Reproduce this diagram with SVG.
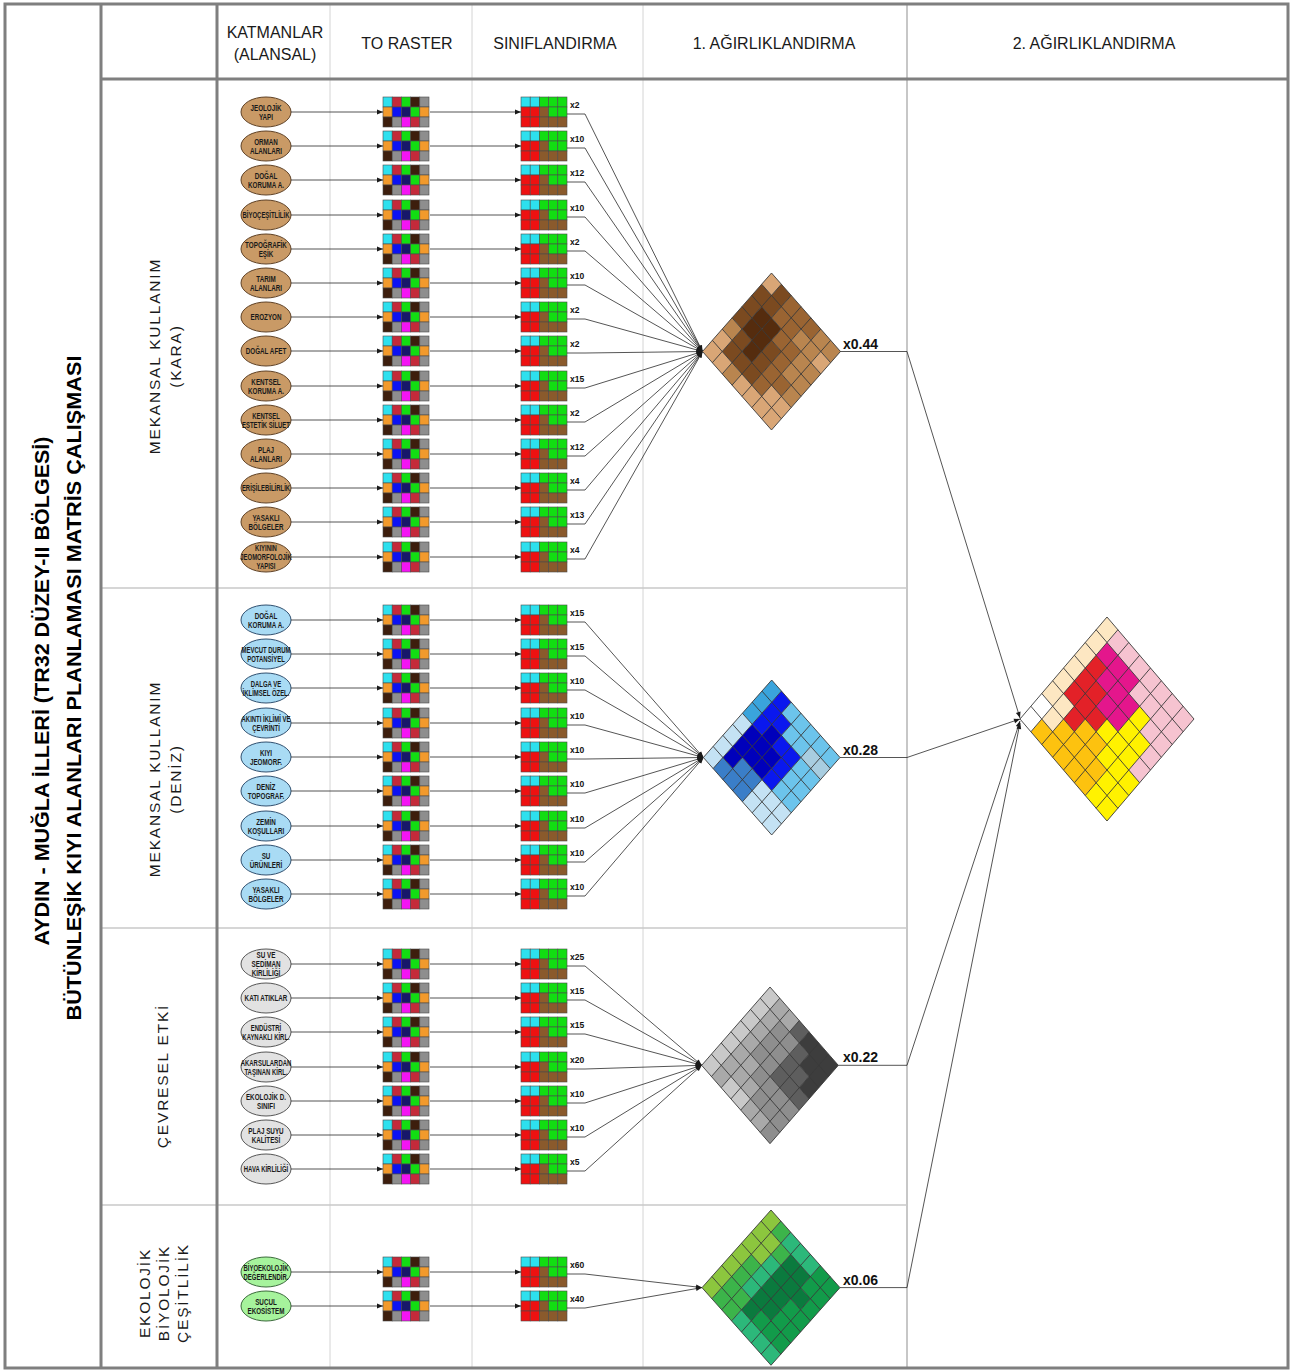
<svg xmlns="http://www.w3.org/2000/svg" width="1295" height="1371" viewBox="0 0 1295 1371">
<style>
.fr{fill:none;stroke:#7f7f7f;stroke-width:3}
.tl{stroke:#d4d4d4;stroke-width:1;fill:none}
.hl{stroke:#c8c8c8;stroke-width:1.5;fill:none}
.hd{font-family:"Liberation Sans",Arial,sans-serif;font-size:16px;fill:#1a1a1a;text-anchor:middle}
.sec{font-family:"Liberation Sans",Arial,sans-serif;font-size:15.5px;fill:#1a1a1a;text-anchor:middle;letter-spacing:1.8px}
.ttl{font-family:"Liberation Sans",Arial,sans-serif;font-size:20px;font-weight:bold;fill:#000;text-anchor:middle}
.et{font-family:"Liberation Sans",Arial,sans-serif;font-size:8.5px;font-weight:bold;fill:#1a1a1a;text-anchor:middle}
.ek{fill:#c99a66;stroke:#5e4024;stroke-width:1}
.ed{fill:#a9dbf4;stroke:#2f4f6f;stroke-width:1}
.ec{fill:#e2e2e2;stroke:#555;stroke-width:1}
.eb{fill:#a6f39c;stroke:#3a6a3a;stroke-width:1}
.w{font-family:"Liberation Sans",Arial,sans-serif;font-size:8.5px;font-weight:bold;fill:#111}
.wt{font-family:"Liberation Sans",Arial,sans-serif;font-size:14px;font-weight:bold;fill:#111}
.cn path{fill:none;stroke:#2a2a2a;stroke-width:0.8;marker-end:url(#ah)}
.gl{fill:none;stroke:#3a3a3a;stroke-width:0.9;vector-effect:non-scaling-stroke}
</style>
<defs>
<marker id="ah" viewBox="0 0 10 10" refX="10" refY="5" markerWidth="7" markerHeight="6" orient="auto" markerUnits="userSpaceOnUse"><path d="M0,1 L10,5 L0,9 z" fill="#1a1a1a"/></marker>
<g id="ras" stroke="#4a4a4a" stroke-width="0.6">
<rect x="0" y="0" width="9.2" height="10" fill="#2de0ee"/><rect x="9.2" y="0" width="9.2" height="10" fill="#c42a3a"/><rect x="18.4" y="0" width="9.2" height="10" fill="#12dd12"/><rect x="27.6" y="0" width="9.2" height="10" fill="#3d1e0d"/><rect x="36.8" y="0" width="9.2" height="10" fill="#8e8e8e"/>
<rect x="0" y="10" width="9.2" height="10" fill="#f29a2c"/><rect x="9.2" y="10" width="9.2" height="10" fill="#0c12f2"/><rect x="18.4" y="10" width="9.2" height="10" fill="#17176a"/><rect x="27.6" y="10" width="9.2" height="10" fill="#12dd12"/><rect x="36.8" y="10" width="9.2" height="10" fill="#f29a2c"/>
<rect x="0" y="20" width="9.2" height="10" fill="#3d1e0d"/><rect x="9.2" y="20" width="9.2" height="10" fill="#8e8e8e"/><rect x="18.4" y="20" width="9.2" height="10" fill="#f414f4"/><rect x="27.6" y="20" width="9.2" height="10" fill="#c42a3a"/><rect x="36.8" y="20" width="9.2" height="10" fill="#8e8e8e"/>
</g>
<g id="cls" stroke="#4a4a4a" stroke-width="0.6">
<rect x="0" y="0" width="9.2" height="10" fill="#2de0ee"/><rect x="9.2" y="0" width="9.2" height="10" fill="#2de0ee"/><rect x="18.4" y="0" width="9.2" height="10" fill="#12dd12"/><rect x="27.6" y="0" width="9.2" height="10" fill="#12dd12"/><rect x="36.8" y="0" width="9.2" height="10" fill="#12dd12"/>
<rect x="0" y="10" width="9.2" height="10" fill="#ee1111"/><rect x="9.2" y="10" width="9.2" height="10" fill="#ee1111"/><rect x="18.4" y="10" width="9.2" height="10" fill="#8a5a2c"/><rect x="27.6" y="10" width="9.2" height="10" fill="#12dd12"/><rect x="36.8" y="10" width="9.2" height="10" fill="#12dd12"/>
<rect x="0" y="20" width="9.2" height="10" fill="#ee1111"/><rect x="9.2" y="20" width="9.2" height="10" fill="#ee1111"/><rect x="18.4" y="20" width="9.2" height="10" fill="#8a5a2c"/><rect x="27.6" y="20" width="9.2" height="10" fill="#8a5a2c"/><rect x="36.8" y="20" width="9.2" height="10" fill="#8a5a2c"/>
</g>
<path id="g7" class="gl" d="M0 0H7M0 1H7M0 2H7M0 3H7M0 4H7M0 5H7M0 6H7M0 7H7M0 0V7M1 0V7M2 0V7M3 0V7M4 0V7M5 0V7M6 0V7M7 0V7"/>
<path id="g8" class="gl" d="M0 0H8M0 1H8M0 2H8M0 3H8M0 4H8M0 5H8M0 6H8M0 7H8M0 8H8M0 0V8M1 0V8M2 0V8M3 0V8M4 0V8M5 0V8M6 0V8M7 0V8M8 0V8"/>
</defs>

<rect width="1295" height="1371" fill="#ffffff"/>

<g id="frame">
<line class="tl" x1="330" y1="4" x2="330" y2="1368"/>
<line class="tl" x1="472" y1="4" x2="472" y2="1368"/>
<line class="tl" x1="643" y1="4" x2="643" y2="1368"/>
<line x1="907" y1="4" x2="907" y2="1368" stroke="#b4b4b4" stroke-width="1.5"/>
<line class="hl" x1="101" y1="588" x2="907" y2="588"/>
<line class="hl" x1="101" y1="928" x2="907" y2="928"/>
<line class="hl" x1="101" y1="1205" x2="907" y2="1205"/>
<rect class="fr" x="5" y="4" width="1283" height="1364"/>
<line class="fr" x1="101" y1="4" x2="101" y2="1368"/>
<line class="fr" x1="217" y1="4" x2="217" y2="1368"/>
<line class="fr" x1="101" y1="79" x2="1288" y2="79"/>
</g>

<g id="headers">
<text class="hd" x="275" y="38">KATMANLAR</text>
<text class="hd" x="275" y="60">(ALANSAL)</text>
<text class="hd" x="407" y="49">TO RASTER</text>
<text class="hd" x="555" y="49">SINIFLANDIRMA</text>
<text class="hd" x="774" y="49">1. AĞIRLIKLANDIRMA</text>
<text class="hd" x="1094" y="49">2. AĞIRLIKLANDIRMA</text>
</g>

<g id="title">
<text class="ttl" transform="translate(49,691) rotate(-90)" textLength="509" lengthAdjust="spacingAndGlyphs">AYDIN - MUĞLA İLLERİ (TR32 DÜZEY-II BÖLGESİ)</text>
<text class="ttl" transform="translate(81,688) rotate(-90)" textLength="665" lengthAdjust="spacingAndGlyphs">BÜTÜNLEŞİK KIYI ALANLARI PLANLAMASI MATRİS ÇALIŞMASI</text>
</g>

<g id="sections">
<text class="sec" transform="translate(160,356) rotate(-90)">MEKANSAL KULLANIM</text>
<text class="sec" transform="translate(181,356) rotate(-90)">(KARA)</text>
<text class="sec" transform="translate(160,779) rotate(-90)">MEKANSAL KULLANIM</text>
<text class="sec" transform="translate(181,779) rotate(-90)">(DENİZ)</text>
<text class="sec" transform="translate(168,1076) rotate(-90)">ÇEVRESEL ETKİ</text>
<text class="sec" transform="translate(150,1293) rotate(-90)">EKOLOJİK</text>
<text class="sec" transform="translate(169,1293) rotate(-90)">BİYOLOJİK</text>
<text class="sec" transform="translate(188,1293) rotate(-90)">ÇEŞİTLİLİK</text>
</g>

<!-- layer nodes -->
<g id="k1" transform="translate(266,112)"><ellipse class="ek" rx="25" ry="15"/><text class="et" transform="scale(0.74,1)"><tspan x="0" y="-1.5">JEOLOJİK</tspan><tspan x="0" y="7.5">YAPI</tspan></text></g>
<g id="k2" transform="translate(266,146)"><ellipse class="ek" rx="25" ry="15"/><text class="et" transform="scale(0.74,1)"><tspan x="0" y="-1.5">ORMAN</tspan><tspan x="0" y="7.5">ALANLARI</tspan></text></g>
<g id="k3" transform="translate(266,180)"><ellipse class="ek" rx="25" ry="15"/><text class="et" transform="scale(0.74,1)"><tspan x="0" y="-1.5">DOĞAL</tspan><tspan x="0" y="7.5">KORUMA A.</tspan></text></g>
<g id="k4" transform="translate(266,215)"><ellipse class="ek" rx="25" ry="15"/><text class="et" transform="scale(0.7,1)"><tspan x="0" y="3">BİYOÇEŞİTLİLİK</tspan></text></g>
<g id="k5" transform="translate(266,249)"><ellipse class="ek" rx="25" ry="15"/><text class="et" transform="scale(0.74,1)"><tspan x="0" y="-1.5">TOPOĞRAFİK</tspan><tspan x="0" y="7.5">EŞİK</tspan></text></g>
<g id="k6" transform="translate(266,283)"><ellipse class="ek" rx="25" ry="15"/><text class="et" transform="scale(0.74,1)"><tspan x="0" y="-1.5">TARIM</tspan><tspan x="0" y="7.5">ALANLARI</tspan></text></g>
<g id="k7" transform="translate(266,317)"><ellipse class="ek" rx="25" ry="15"/><text class="et" transform="scale(0.74,1)"><tspan x="0" y="3">EROZYON</tspan></text></g>
<g id="k8" transform="translate(266,351)"><ellipse class="ek" rx="25" ry="15"/><text class="et" transform="scale(0.74,1)"><tspan x="0" y="3">DOĞAL AFET</tspan></text></g>
<g id="k9" transform="translate(266,386)"><ellipse class="ek" rx="25" ry="15"/><text class="et" transform="scale(0.74,1)"><tspan x="0" y="-1.5">KENTSEL</tspan><tspan x="0" y="7.5">KORUMA A.</tspan></text></g>
<g id="k10" transform="translate(266,420)"><ellipse class="ek" rx="25" ry="15"/><text class="et" transform="scale(0.7,1)"><tspan x="0" y="-1.5">KENTSEL</tspan><tspan x="0" y="7.5">ESTETİK SİLUET</tspan></text></g>
<g id="k11" transform="translate(266,454)"><ellipse class="ek" rx="25" ry="15"/><text class="et" transform="scale(0.74,1)"><tspan x="0" y="-1.5">PLAJ</tspan><tspan x="0" y="7.5">ALANLARI</tspan></text></g>
<g id="k12" transform="translate(266,488)"><ellipse class="ek" rx="25" ry="15"/><text class="et" transform="scale(0.7,1)"><tspan x="0" y="3">ERİŞİLEBİLİRLİK</tspan></text></g>
<g id="k13" transform="translate(266,522)"><ellipse class="ek" rx="25" ry="15"/><text class="et" transform="scale(0.74,1)"><tspan x="0" y="-1.5">YASAKLI</tspan><tspan x="0" y="7.5">BÖLGELER</tspan></text></g>
<g id="k14" transform="translate(266,557)"><ellipse class="ek" rx="25" ry="15"/><text class="et" transform="scale(0.7,1)"><tspan x="0" y="-6">KIYININ</tspan><tspan x="0" y="3">JEOMORFOLOJİK</tspan><tspan x="0" y="12">YAPISI</tspan></text></g>

<g id="d1" transform="translate(266,620)"><ellipse class="ed" rx="25" ry="15"/><text class="et" transform="scale(0.74,1)"><tspan x="0" y="-1.5">DOĞAL</tspan><tspan x="0" y="7.5">KORUMA A.</tspan></text></g>
<g id="d2" transform="translate(266,654)"><ellipse class="ed" rx="25" ry="15"/><text class="et" transform="scale(0.7,1)"><tspan x="0" y="-1.5">MEVCUT DURUM</tspan><tspan x="0" y="7.5">POTANSİYEL</tspan></text></g>
<g id="d3" transform="translate(266,688)"><ellipse class="ed" rx="25" ry="15"/><text class="et" transform="scale(0.7,1)"><tspan x="0" y="-1.5">DALGA VE</tspan><tspan x="0" y="7.5">İKLİMSEL ÖZEL.</tspan></text></g>
<g id="d4" transform="translate(266,723)"><ellipse class="ed" rx="25" ry="15"/><text class="et" transform="scale(0.7,1)"><tspan x="0" y="-1.5">AKINTI İKLİMİ VE</tspan><tspan x="0" y="7.5">ÇEVRİNTİ</tspan></text></g>
<g id="d5" transform="translate(266,757)"><ellipse class="ed" rx="25" ry="15"/><text class="et" transform="scale(0.74,1)"><tspan x="0" y="-1.5">KIYI</tspan><tspan x="0" y="7.5">JEOMORF.</tspan></text></g>
<g id="d6" transform="translate(266,791)"><ellipse class="ed" rx="25" ry="15"/><text class="et" transform="scale(0.74,1)"><tspan x="0" y="-1.5">DENİZ</tspan><tspan x="0" y="7.5">TOPOGRAF.</tspan></text></g>
<g id="d7" transform="translate(266,826)"><ellipse class="ed" rx="25" ry="15"/><text class="et" transform="scale(0.74,1)"><tspan x="0" y="-1.5">ZEMİN</tspan><tspan x="0" y="7.5">KOŞULLARI</tspan></text></g>
<g id="d8" transform="translate(266,860)"><ellipse class="ed" rx="25" ry="15"/><text class="et" transform="scale(0.74,1)"><tspan x="0" y="-1.5">SU</tspan><tspan x="0" y="7.5">ÜRÜNLERİ</tspan></text></g>
<g id="d9" transform="translate(266,894)"><ellipse class="ed" rx="25" ry="15"/><text class="et" transform="scale(0.74,1)"><tspan x="0" y="-1.5">YASAKLI</tspan><tspan x="0" y="7.5">BÖLGELER</tspan></text></g>

<g id="c1" transform="translate(266,964)"><ellipse class="ec" rx="25" ry="15"/><text class="et" transform="scale(0.74,1)"><tspan x="0" y="-6">SU VE</tspan><tspan x="0" y="3">SEDİMAN</tspan><tspan x="0" y="12">KİRLİLİĞİ</tspan></text></g>
<g id="c2" transform="translate(266,998)"><ellipse class="ec" rx="25" ry="15"/><text class="et" transform="scale(0.74,1)"><tspan x="0" y="3">KATI ATIKLAR</tspan></text></g>
<g id="c3" transform="translate(266,1032)"><ellipse class="ec" rx="25" ry="15"/><text class="et" transform="scale(0.7,1)"><tspan x="0" y="-1.5">ENDÜSTRİ</tspan><tspan x="0" y="7.5">KAYNAKLI KİRL.</tspan></text></g>
<g id="c4" transform="translate(266,1067)"><ellipse class="ec" rx="25" ry="15"/><text class="et" transform="scale(0.7,1)"><tspan x="0" y="-1.5">AKARSULARDAN</tspan><tspan x="0" y="7.5">TAŞINAN KİRL.</tspan></text></g>
<g id="c5" transform="translate(266,1101)"><ellipse class="ec" rx="25" ry="15"/><text class="et" transform="scale(0.74,1)"><tspan x="0" y="-1.5">EKOLOJİK D.</tspan><tspan x="0" y="7.5">SINIFI</tspan></text></g>
<g id="c6" transform="translate(266,1135)"><ellipse class="ec" rx="25" ry="15"/><text class="et" transform="scale(0.74,1)"><tspan x="0" y="-1.5">PLAJ SUYU</tspan><tspan x="0" y="7.5">KALİTESİ</tspan></text></g>
<g id="c7" transform="translate(266,1169)"><ellipse class="ec" rx="25" ry="15"/><text class="et" transform="scale(0.7,1)"><tspan x="0" y="3">HAVA KİRLİLİĞİ</tspan></text></g>

<g id="b1" transform="translate(266,1272)"><ellipse class="eb" rx="25" ry="15"/><text class="et" transform="scale(0.7,1)"><tspan x="0" y="-1.5">BİYOEKOLOJİK</tspan><tspan x="0" y="7.5">DEĞERLENDİR.</tspan></text></g>
<g id="b2" transform="translate(266,1306)"><ellipse class="eb" rx="25" ry="15"/><text class="et" transform="scale(0.74,1)"><tspan x="0" y="-1.5">SUCUL</tspan><tspan x="0" y="7.5">EKOSİSTEM</tspan></text></g>

<!-- raster nodes -->
<g id="rasters">
<use href="#ras" x="383" y="97"/><use href="#ras" x="383" y="131"/><use href="#ras" x="383" y="165"/><use href="#ras" x="383" y="200"/><use href="#ras" x="383" y="234"/><use href="#ras" x="383" y="268"/><use href="#ras" x="383" y="302"/><use href="#ras" x="383" y="336"/><use href="#ras" x="383" y="371"/><use href="#ras" x="383" y="405"/><use href="#ras" x="383" y="439"/><use href="#ras" x="383" y="473"/><use href="#ras" x="383" y="507"/><use href="#ras" x="383" y="542"/>
<use href="#ras" x="383" y="605"/><use href="#ras" x="383" y="639"/><use href="#ras" x="383" y="673"/><use href="#ras" x="383" y="708"/><use href="#ras" x="383" y="742"/><use href="#ras" x="383" y="776"/><use href="#ras" x="383" y="811"/><use href="#ras" x="383" y="845"/><use href="#ras" x="383" y="879"/>
<use href="#ras" x="383" y="949"/><use href="#ras" x="383" y="983"/><use href="#ras" x="383" y="1017"/><use href="#ras" x="383" y="1052"/><use href="#ras" x="383" y="1086"/><use href="#ras" x="383" y="1120"/><use href="#ras" x="383" y="1154"/>
<use href="#ras" x="383" y="1257"/><use href="#ras" x="383" y="1291"/>
</g>

<!-- classified nodes -->
<g id="classified">
<use href="#cls" x="521" y="97"/><use href="#cls" x="521" y="131"/><use href="#cls" x="521" y="165"/><use href="#cls" x="521" y="200"/><use href="#cls" x="521" y="234"/><use href="#cls" x="521" y="268"/><use href="#cls" x="521" y="302"/><use href="#cls" x="521" y="336"/><use href="#cls" x="521" y="371"/><use href="#cls" x="521" y="405"/><use href="#cls" x="521" y="439"/><use href="#cls" x="521" y="473"/><use href="#cls" x="521" y="507"/><use href="#cls" x="521" y="542"/>
<use href="#cls" x="521" y="605"/><use href="#cls" x="521" y="639"/><use href="#cls" x="521" y="673"/><use href="#cls" x="521" y="708"/><use href="#cls" x="521" y="742"/><use href="#cls" x="521" y="776"/><use href="#cls" x="521" y="811"/><use href="#cls" x="521" y="845"/><use href="#cls" x="521" y="879"/>
<use href="#cls" x="521" y="949"/><use href="#cls" x="521" y="983"/><use href="#cls" x="521" y="1017"/><use href="#cls" x="521" y="1052"/><use href="#cls" x="521" y="1086"/><use href="#cls" x="521" y="1120"/><use href="#cls" x="521" y="1154"/>
<use href="#cls" x="521" y="1257"/><use href="#cls" x="521" y="1291"/>
</g>

<g id="weights">
<text class="w" x="570" y="108">x2</text><text class="w" x="570" y="142">x10</text><text class="w" x="570" y="176">x12</text><text class="w" x="570" y="211">x10</text><text class="w" x="570" y="245">x2</text><text class="w" x="570" y="279">x10</text><text class="w" x="570" y="313">x2</text><text class="w" x="570" y="347">x2</text><text class="w" x="570" y="382">x15</text><text class="w" x="570" y="416">x2</text><text class="w" x="570" y="450">x12</text><text class="w" x="570" y="484">x4</text><text class="w" x="570" y="518">x13</text><text class="w" x="570" y="553">x4</text>
<text class="w" x="570" y="616">x15</text><text class="w" x="570" y="650">x15</text><text class="w" x="570" y="684">x10</text><text class="w" x="570" y="719">x10</text><text class="w" x="570" y="753">x10</text><text class="w" x="570" y="787">x10</text><text class="w" x="570" y="822">x10</text><text class="w" x="570" y="856">x10</text><text class="w" x="570" y="890">x10</text>
<text class="w" x="570" y="960">x25</text><text class="w" x="570" y="994">x15</text><text class="w" x="570" y="1028">x15</text><text class="w" x="570" y="1063">x20</text><text class="w" x="570" y="1097">x10</text><text class="w" x="570" y="1131">x10</text><text class="w" x="570" y="1165">x5</text>
<text class="w" x="570" y="1268">x60</text><text class="w" x="570" y="1302">x40</text>
<text class="wt" x="843" y="349">x0.44</text>
<text class="wt" x="843" y="755">x0.28</text>
<text class="wt" x="843" y="1062">x0.22</text>
<text class="wt" x="843" y="1285">x0.06</text>
</g>

<g id="connectors" class="cn">
<path d="M291 112H383"/><path d="M291 146H383"/><path d="M291 180H383"/><path d="M291 215H383"/><path d="M291 249H383"/><path d="M291 283H383"/><path d="M291 317H383"/><path d="M291 351H383"/><path d="M291 386H383"/><path d="M291 420H383"/><path d="M291 454H383"/><path d="M291 488H383"/><path d="M291 522H383"/><path d="M291 557H383"/>
<path d="M291 620H383"/><path d="M291 654H383"/><path d="M291 688H383"/><path d="M291 723H383"/><path d="M291 757H383"/><path d="M291 791H383"/><path d="M291 826H383"/><path d="M291 860H383"/><path d="M291 894H383"/>
<path d="M291 964H383"/><path d="M291 998H383"/><path d="M291 1032H383"/><path d="M291 1067H383"/><path d="M291 1101H383"/><path d="M291 1135H383"/><path d="M291 1169H383"/>
<path d="M291 1272H383"/><path d="M291 1306H383"/>

<path d="M430 112H521"/><path d="M430 146H521"/><path d="M430 180H521"/><path d="M430 215H521"/><path d="M430 249H521"/><path d="M430 283H521"/><path d="M430 317H521"/><path d="M430 351H521"/><path d="M430 386H521"/><path d="M430 420H521"/><path d="M430 454H521"/><path d="M430 488H521"/><path d="M430 522H521"/><path d="M430 557H521"/>
<path d="M430 620H521"/><path d="M430 654H521"/><path d="M430 688H521"/><path d="M430 723H521"/><path d="M430 757H521"/><path d="M430 791H521"/><path d="M430 826H521"/><path d="M430 860H521"/><path d="M430 894H521"/>
<path d="M430 964H521"/><path d="M430 998H521"/><path d="M430 1032H521"/><path d="M430 1067H521"/><path d="M430 1101H521"/><path d="M430 1135H521"/><path d="M430 1169H521"/>
<path d="M430 1272H521"/><path d="M430 1306H521"/>

<path d="M567 114H585L702.5 351.5"/><path d="M567 148H585L702.5 351.5"/><path d="M567 182H585L702.5 351.5"/><path d="M567 217H585L702.5 351.5"/><path d="M567 251H585L702.5 351.5"/><path d="M567 285H585L702.5 351.5"/><path d="M567 319H585L702.5 351.5"/><path d="M567 353H585L702.5 351.5"/><path d="M567 388H585L702.5 351.5"/><path d="M567 422H585L702.5 351.5"/><path d="M567 456H585L702.5 351.5"/><path d="M567 490H585L702.5 351.5"/><path d="M567 524H585L702.5 351.5"/><path d="M567 559H585L702.5 351.5"/>
<path d="M567 622H585L703.4 757.5"/><path d="M567 656H585L703.4 757.5"/><path d="M567 690H585L703.4 757.5"/><path d="M567 725H585L703.4 757.5"/><path d="M567 759H585L703.4 757.5"/><path d="M567 793H585L703.4 757.5"/><path d="M567 828H585L703.4 757.5"/><path d="M567 862H585L703.4 757.5"/><path d="M567 896H585L703.4 757.5"/>
<path d="M567 966H585L701.7 1065.3"/><path d="M567 1000H585L701.7 1065.3"/><path d="M567 1034H585L701.7 1065.3"/><path d="M567 1069H585L701.7 1065.3"/><path d="M567 1103H585L701.7 1065.3"/><path d="M567 1137H585L701.7 1065.3"/><path d="M567 1171H585L701.7 1065.3"/>
<path d="M567 1274H585L702 1287.6"/><path d="M567 1308H585L702 1287.6"/>

<path d="M840 351.5H907L1020 718"/>
<path d="M840 757.5H907L1020 719"/>
<path d="M838.3 1065.3H907L1020 721"/>
<path d="M840 1287.6H907L1020 723"/>
</g>

<g id="w-kara" transform="matrix(9.857,11.214,-9.857,11.214,771.5,273)">
<path fill="#d9a676" d="M0 0h1v1h-1zM6 1h1v1h-1zM0 5h1v1h-1zM5 5h1v1h-1zM6 5h1v1h-1zM0 6h1v1h-1zM1 6h1v1h-1zM3 6h1v1h-1zM4 6h1v1h-1zM5 6h1v1h-1zM6 6h1v1h-1z"/>
<path fill="#7b4a20" d="M1 0h1v1h-1zM0 1h1v1h-1zM1 1h1v1h-1zM0 2h1v1h-1zM0 3h1v1h-1zM3 3h1v1h-1zM1 4h1v1h-1zM3 4h1v1h-1zM1 5h1v1h-1zM2 5h1v1h-1zM3 5h1v1h-1z"/>
<path fill="#552c0e" d="M1 2h1v1h-1zM2 2h1v1h-1zM1 3h1v1h-1zM2 3h1v1h-1zM2 4h1v1h-1z"/>
<path fill="#9a6432" d="M2 0h1v1h-1zM3 0h1v1h-1zM4 0h1v1h-1zM2 1h1v1h-1zM3 1h1v1h-1zM3 2h1v1h-1zM4 2h1v1h-1zM4 3h1v1h-1zM4 4h1v1h-1zM5 4h1v1h-1zM4 5h1v1h-1z"/>
<path fill="#b9854f" d="M5 0h1v1h-1zM6 0h1v1h-1zM4 1h1v1h-1zM5 1h1v1h-1zM5 2h1v1h-1zM6 2h1v1h-1zM5 3h1v1h-1zM6 3h1v1h-1zM0 4h1v1h-1zM6 4h1v1h-1zM2 6h1v1h-1z"/>
<use href="#g7"/>
</g>

<g id="w-deniz" transform="matrix(9.76,11.07,-9.76,11.07,771.7,680)">
<path fill="#3aa4dc" d="M0 0h1v1h-1zM0 1h1v1h-1zM0 2h1v1h-1z"/>
<path fill="#0a18ee" d="M1 0h1v1h-1zM1 1h1v1h-1zM2 1h1v1h-1zM1 2h1v1h-1zM3 2h1v1h-1zM4 2h1v1h-1zM4 3h1v1h-1zM4 4h1v1h-1z"/>
<path fill="#6cc4ec" d="M2 0h1v1h-1zM3 0h1v1h-1zM4 0h1v1h-1zM5 0h1v1h-1zM6 0h1v1h-1zM3 1h1v1h-1zM4 1h1v1h-1zM5 2h1v1h-1zM6 2h1v1h-1zM5 3h1v1h-1zM6 3h1v1h-1zM5 4h1v1h-1zM6 4h1v1h-1z"/>
<path fill="#a8cde0" d="M5 1h1v1h-1zM6 1h1v1h-1z"/>
<path fill="#0000bb" d="M2 2h1v1h-1zM1 3h1v1h-1zM2 3h1v1h-1zM3 3h1v1h-1zM1 4h1v1h-1zM2 4h1v1h-1zM3 4h1v1h-1zM1 5h1v1h-1z"/>
<path fill="#c4e2f4" d="M0 3h1v1h-1zM0 4h1v1h-1zM0 5h1v1h-1zM4 5h1v1h-1zM5 5h1v1h-1zM6 5h1v1h-1zM0 6h1v1h-1zM4 6h1v1h-1zM5 6h1v1h-1zM6 6h1v1h-1z"/>
<path fill="#3a7ec8" d="M2 5h1v1h-1zM3 5h1v1h-1zM1 6h1v1h-1zM2 6h1v1h-1zM3 6h1v1h-1z"/>
<use href="#g7"/>
</g>

<g id="w-cevre" transform="matrix(9.76,11.19,-9.76,11.19,770,987)">
<path fill="#c9c9c9" d="M0 0h1v1h-1zM0 1h1v1h-1zM0 2h1v1h-1zM0 3h1v1h-1zM0 4h1v1h-1zM0 5h1v1h-1zM0 6h1v1h-1zM2 6h1v1h-1zM3 6h1v1h-1z"/>
<path fill="#a9a9a9" d="M1 0h1v1h-1zM2 0h1v1h-1zM1 1h1v1h-1zM1 2h1v1h-1zM1 3h1v1h-1zM1 4h1v1h-1zM2 4h1v1h-1zM1 5h1v1h-1zM2 5h1v1h-1zM3 5h1v1h-1zM1 6h1v1h-1zM4 6h1v1h-1zM5 6h1v1h-1z"/>
<path fill="#8e8e8e" d="M2 1h1v1h-1zM3 1h1v1h-1zM2 2h1v1h-1zM3 2h1v1h-1zM2 3h1v1h-1zM3 3h1v1h-1zM3 4h1v1h-1zM4 4h1v1h-1zM5 4h1v1h-1zM6 4h1v1h-1zM4 5h1v1h-1zM5 5h1v1h-1zM6 5h1v1h-1zM6 6h1v1h-1z"/>
<path fill="#5e5e5e" d="M3 0h1v1h-1zM4 1h1v1h-1zM4 2h1v1h-1zM5 2h1v1h-1zM4 3h1v1h-1zM5 3h1v1h-1zM6 3h1v1h-1z"/>
<path fill="#3d3d3d" d="M4 0h1v1h-1zM5 0h1v1h-1zM6 0h1v1h-1zM5 1h1v1h-1zM6 1h1v1h-1zM6 2h1v1h-1z"/>
<use href="#g7"/>
</g>

<g id="w-eko" transform="matrix(9.857,11.09,-9.857,11.09,771,1210)">
<path fill="#8cc63e" d="M0 0h1v1h-1zM0 1h1v1h-1zM1 1h1v1h-1zM0 2h1v1h-1zM1 2h1v1h-1zM0 3h1v1h-1zM0 4h1v1h-1zM0 5h1v1h-1zM0 6h1v1h-1z"/>
<path fill="#3cb44a" d="M1 0h1v1h-1zM2 1h1v1h-1zM1 3h1v1h-1zM1 4h1v1h-1zM1 5h1v1h-1zM2 5h1v1h-1zM1 6h1v1h-1zM2 6h1v1h-1z"/>
<path fill="#2cb87a" d="M2 0h1v1h-1zM3 0h1v1h-1zM4 0h1v1h-1zM2 2h1v1h-1zM2 3h1v1h-1zM2 4h1v1h-1zM3 6h1v1h-1zM4 6h1v1h-1zM5 6h1v1h-1zM6 6h1v1h-1z"/>
<path fill="#0b7a3e" d="M3 1h1v1h-1zM4 1h1v1h-1zM3 2h1v1h-1zM4 2h1v1h-1zM5 2h1v1h-1zM3 3h1v1h-1zM4 3h1v1h-1zM3 4h1v1h-1zM4 4h1v1h-1zM3 5h1v1h-1z"/>
<path fill="#129b4a" d="M5 0h1v1h-1zM6 0h1v1h-1zM5 1h1v1h-1zM6 1h1v1h-1zM6 2h1v1h-1zM5 3h1v1h-1zM6 3h1v1h-1zM5 4h1v1h-1zM6 4h1v1h-1zM4 5h1v1h-1zM5 5h1v1h-1zM6 5h1v1h-1z"/>
<use href="#g7"/>
</g>

<g id="final" transform="matrix(10.875,12.75,-10.875,12.75,1107,617)">
<path fill="#fde7c2" d="M0 0h1v1h-1zM0 1h1v1h-1zM0 2h1v1h-1zM0 3h1v1h-1zM0 4h1v1h-1zM0 5h1v1h-1zM1 5h1v1h-1zM1 6h1v1h-1z"/>
<path fill="#f6c3d0" d="M1 0h7v1h-7zM4 1h4v1h-4zM6 2h2v1h-2zM7 3h1v1h-1zM7 4h1v1h-1z"/>
<path fill="#e4168c" d="M1 1h3v1h-3zM2 2h3v1h-3zM3 3h2v1h-2z"/>
<path fill="#e32128" d="M1 2h1v1h-1zM1 3h2v1h-2zM1 4h3v1h-3zM2 5h1v1h-1z"/>
<path fill="#fff200" d="M5 2h1v1h-1zM5 3h2v1h-2zM4 4h3v1h-3zM5 5h3v1h-3zM6 6h2v1h-2zM6 7h2v1h-2z"/>
<path fill="#fdc20f" d="M3 5h2v1h-2zM2 6h4v1h-4zM1 7h5v1h-5z"/>
<path fill="#ffffff" d="M0 6h1v1h-1zM0 7h1v1h-1z"/>
<use href="#g8"/>
</g>
</svg>
